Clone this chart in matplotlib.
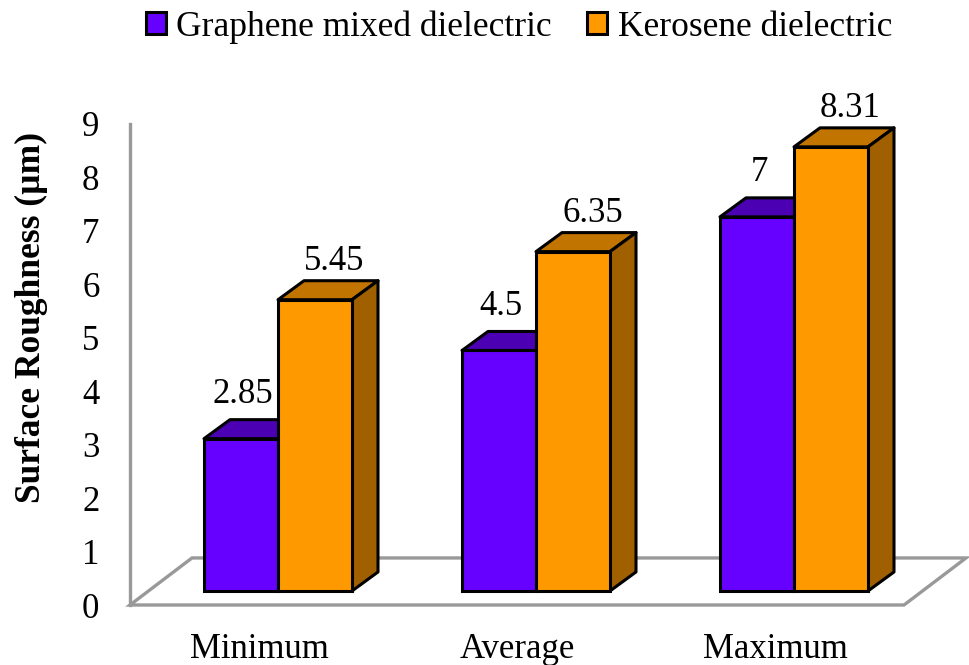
# Surface roughness bars, drawn with a fake 3D look like the spreadsheet original
import numpy as np
import matplotlib
matplotlib.use('Agg')
import matplotlib.pyplot as plt
from matplotlib.patches import Polygon, Patch

plt.rcParams['font.family'] = ['Liberation Serif', 'DejaVu Serif']

categories = ['Minimum', 'Average', 'Maximum']
graphene = [2.85, 4.5, 7]
kerosene = [5.45, 6.35, 8.31]
graphene_labels = ['2.85', '4.5', '7']
kerosene_labels = ['5.45', '6.35', '8.31']
yticks = [0, 1, 2, 3, 4, 5, 6, 7, 8, 9]

W, H = 970, 665
fig = plt.figure(figsize=(W / 100, H / 100), dpi=100)

# axes box in pixels, left wall to right edge, y=0 on the front floor line
left, right, bottom, top = 130, 970, 605, 124
ax = fig.add_axes([left / W, 1 - bottom / H, (right - left) / W, (bottom - top) / H])
ax.set_xlim((left - 278) / 258, (right - 278) / 258)
ax.set_ylim(0, 9)

width = 74 / 258   # bar width
dx = 26 / 258      # bar depth
dy = 19 / 53.4
base = 14 / 53.4   # bars stand a bit behind the floor front edge

gray = '#999999'

# floor
fx0, fx1 = (left - 278) / 258, (904 - 278) / 258
fdx, fdy = 62 / 258, 47 / 53.4
ax.add_patch(Polygon([(fx0, 0), (fx1, 0), (fx1 + fdx, fdy), (fx0 + fdx, fdy)],
                     closed=True, fc='white', ec=gray, lw=2.4, clip_on=False, zorder=1))


def bars(xs, values, face, topc, sidec, z):
    ax.bar(xs, values, width, bottom=base, align='edge', color=face,
           edgecolor='black', linewidth=2.2, zorder=z + 1)
    for x, v in zip(xs, values):
        y = v + base
        ax.add_patch(Polygon([(x, y), (x + width, y), (x + width + dx, y + dy), (x + dx, y + dy)],
                             closed=True, fc=topc, ec='black', lw=2.2, joinstyle='round',
                             clip_on=False, zorder=z))
        ax.add_patch(Polygon([(x + width, base), (x + width + dx, base + dy),
                              (x + width + dx, y + dy), (x + width, y)],
                             closed=True, fc=sidec, ec='black', lw=2.2, joinstyle='round',
                             clip_on=False, zorder=z))


pos = np.arange(len(categories))
bars(pos - width, graphene, '#6600FF', '#4B00B4', '#3D0099', 2)
bars(pos, kerosene, '#FF9900', '#C27400', '#A06000', 4)

# value labels
for x, v, s in zip(pos - width / 2, graphene, graphene_labels):
    ax.annotate(s, (x, v + base), xytext=(1.5, 32), textcoords='offset points',
                ha='center', va='center', fontsize=25, zorder=8, annotation_clip=False)
for x, v, s in zip(pos + width / 2, kerosene, kerosene_labels):
    ax.annotate(s, (x, v + base), xytext=(14, 27.5), textcoords='offset points',
                ha='center', va='center', fontsize=25, zorder=8, annotation_clip=False)

# axes
for s in ['top', 'right', 'bottom']:
    ax.spines[s].set_visible(False)
ax.spines['left'].set_color(gray)
ax.spines['left'].set_linewidth(2.4)
ax.patch.set_alpha(0)
ax.set_yticks(yticks)
# category labels sit a little left of the bar pairs in the original
ax.set_xticks(pos - 19 / 258)
ax.set_xticklabels(categories)
ax.tick_params(axis='both', length=0, labelsize=25)
ax.tick_params(axis='y', pad=22)
ax.tick_params(axis='x', pad=20)

fig.text(31 / W, 1 - 317.5 / H, 'Surface Roughness (µm)', rotation=90, ha='center', va='center',
         fontsize=25.5, fontweight='bold')

handles = [Patch(fc='#6600FF', ec='black', lw=2.2), Patch(fc='#FF9900', ec='black', lw=2.2)]
fig.legend(handles, ['Graphene mixed dielectric', 'Kerosene dielectric'], ncols=2,
           loc='center', bbox_to_anchor=(519 / W, 1 - 27 / H), frameon=False, fontsize=25.5,
           handlelength=0.56, handleheight=0.56, handletextpad=0.3, columnspacing=1.0,
           borderpad=0)

fig.savefig('out.png', dpi=100)
plt.close()
